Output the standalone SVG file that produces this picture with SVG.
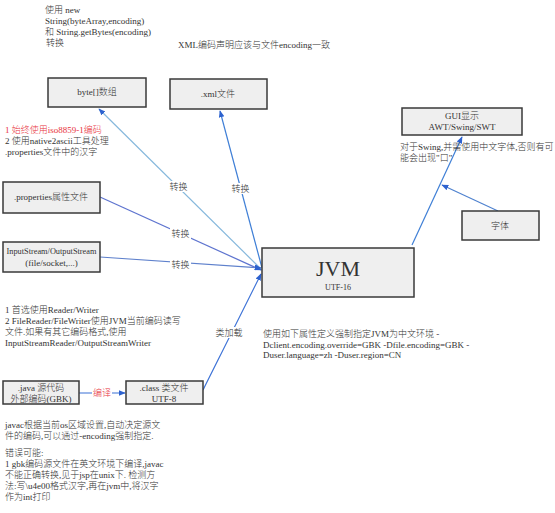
<svg xmlns="http://www.w3.org/2000/svg" width="555" height="513" viewBox="0 0 555 513">
<defs>
<style>
text{font-family:"Liberation Serif","Noto Sans CJK SC",serif;font-size:9px;fill:#333;font-weight:300}
.box{fill:#efefef;stroke:#3a3a3a;stroke-width:1.5}
.c{text-anchor:middle}
.red{fill:#e8323c}
.lbl{fill:#fff}
</style>
<marker id="ah" viewBox="0 0 10 10" refX="9" refY="5" markerWidth="7" markerHeight="7" orient="auto" markerUnits="userSpaceOnUse">
<path d="M0,1 L10,5 L0,9 z" fill="#2d62cf"/>
</marker>
</defs>
<rect width="555" height="513" fill="#fff"/>

<g id="connectors" fill="none" stroke-width="1.2">
<line x1="262" y1="270" x2="99" y2="109" stroke="#86b8dc" marker-end="url(#ah)"/>
<line x1="262" y1="268" x2="220" y2="111" stroke="#3f7fd6" marker-end="url(#ah)"/>
<line x1="100" y1="197" x2="261" y2="270" stroke="#5e74cf" marker-end="url(#ah)"/>
<line x1="100" y1="257" x2="261" y2="268" stroke="#5e80cc" marker-end="url(#ah)"/>
<line x1="203" y1="390" x2="261" y2="274" stroke="#3a70d6" marker-end="url(#ah)"/>
<line x1="412" y1="245" x2="462" y2="137" stroke="#3f7fd6" marker-end="url(#ah)"/>
<line x1="498" y1="211" x2="442" y2="185" stroke="#4f82cf" marker-end="url(#ah)"/>
<line x1="79" y1="393" x2="125" y2="393" stroke="#3a70d6" marker-end="url(#ah)"/>
<rect class="lbl" x="168" y="181" width="21" height="11" stroke="none"/>
<text class="c" x="178.5" y="190">转换</text>
<rect class="lbl" x="230" y="183" width="21" height="11" stroke="none"/>
<text class="c" x="240.5" y="192">转换</text>
<rect class="lbl" x="170" y="228" width="21" height="11" stroke="none"/>
<text class="c" x="180.5" y="237">转换</text>
<rect class="lbl" x="170" y="259" width="21" height="11" stroke="none"/>
<text class="c" x="180.5" y="268">转换</text>
<rect class="lbl" x="217" y="327" width="24" height="11" stroke="none"/>
<text class="c" x="229" y="336">类加载</text>
<rect class="lbl" x="92" y="387" width="20" height="11" stroke="none"/>
<text class="c red" x="102" y="396">编译</text>
</g>

<g id="byte-array">
<rect class="box" x="48" y="78" width="98" height="29"/>
<text class="c" x="97" y="95">byte[]数组</text>
</g>
<g id="xml-file">
<rect class="box" x="170" y="79" width="97" height="30"/>
<text class="c" x="218" y="97">.xml文件</text>
</g>
<g id="gui">
<rect class="box" x="402" y="108" width="120" height="27"/>
<text class="c" x="462" y="119">GUI显示</text>
<text class="c" x="462" y="130">AWT/Swing/SWT</text>
</g>
<g id="font">
<rect class="box" x="462" y="211" width="77" height="29"/>
<text class="c" x="500" y="229">字体</text>
</g>
<g id="properties">
<rect class="box" x="3" y="182" width="97" height="31"/>
<text class="c" x="51" y="200">.properties属性文件</text>
</g>
<g id="stream">
<rect class="box" x="3" y="242" width="97" height="30"/>
<text class="c" x="51.5" y="254" style="font-size:8.3px">InputStream/OutputStream</text>
<text class="c" x="51.5" y="266">(file/socket,...)</text>
</g>
<g id="jvm">
<rect class="box" x="262" y="248" width="152" height="49"/>
<text class="c" x="338" y="276" style="font-size:22px">JVM</text>
<text class="c" x="338" y="290" style="font-size:8px">UTF-16</text>
</g>
<g id="java-src">
<rect class="box" x="3" y="381" width="76" height="23"/>
<text class="c" x="41" y="391">.java 源代码</text>
<text class="c" x="41" y="402">外部编码(GBK)</text>
</g>
<g id="class-file">
<rect class="box" x="126" y="381" width="77" height="23"/>
<text class="c" x="164" y="391">.class 类文件</text>
<text class="c" x="164" y="402">UTF-8</text>
</g>

<g id="notes">
<text x="45" y="13">使用 new</text>
<text x="45" y="24">String(byteArray,encoding)</text>
<text x="45" y="35">和  String.getBytes(encoding)</text>
<text x="46" y="46">转换</text>
<text x="178" y="48">XML编码声明应该与文件encoding一致</text>
<text x="5" y="133" class="red">1 始终使用iso8859-1编码</text>
<text x="5" y="144">2 使用native2ascii工具处理</text>
<text x="5" y="155">.properties文件中的汉字</text>
<text x="400" y="150">对于Swing,并需使用中文字体,否则有可</text>
<text x="400" y="161">能会出现"口"</text>
<text x="5" y="313">1 首选使用Reader/Writer</text>
<text x="5" y="324">2 FileReader/FileWriter使用JVM当前编码读写</text>
<text x="5" y="335">文件.如果有其它编码格式,使用</text>
<text x="5" y="346">InputStreamReader/OutputStreamWriter</text>
<text x="263" y="337">使用如下属性定义强制指定JVM为中文环境 -</text>
<text x="263" y="347.5">Dclient.encoding.override=GBK -Dfile.encoding=GBK -</text>
<text x="263" y="358">Duser.language=zh -Duser.region=CN</text>
<text x="5" y="428">javac根据当前os区域设置,自动决定源文</text>
<text x="5" y="439">件的编码,可以通过-encoding强制指定.</text>
<text x="5" y="456">错误可能:</text>
<text x="5" y="467">1 gbk编码源文件在英文环境下编译,javac</text>
<text x="5" y="478">不能正确转换,见于jsp在unix下. 检测方</text>
<text x="5" y="489">法:写\u4e00格式汉字,再在jvm中,将汉字</text>
<text x="5" y="500">作为int打印</text>
</g>
</svg>
